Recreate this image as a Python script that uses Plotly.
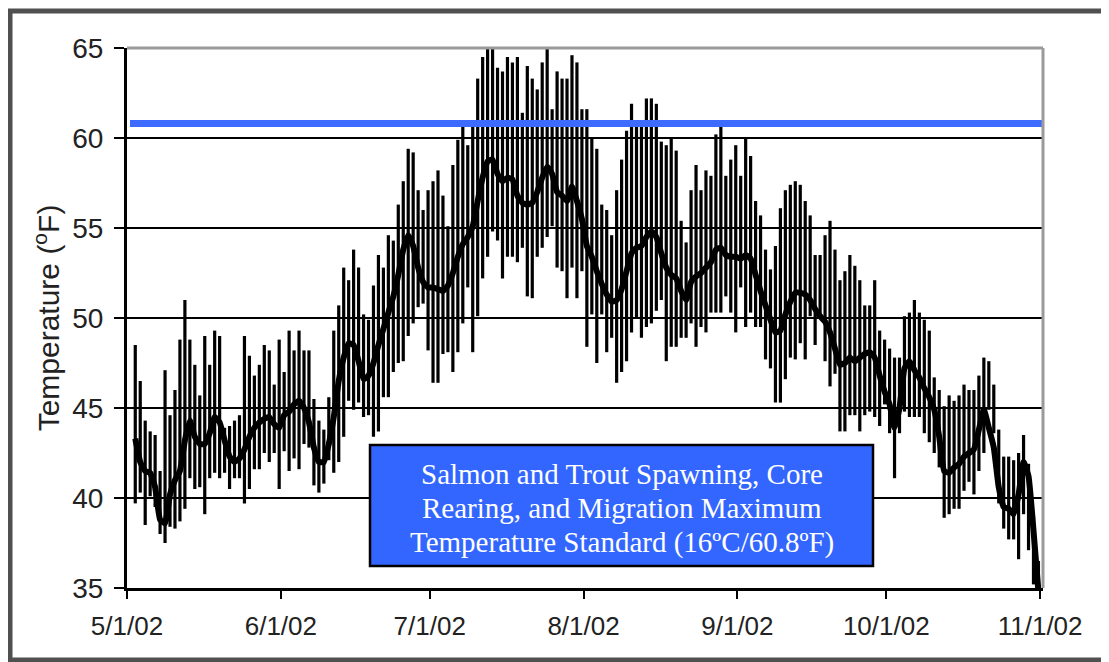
import pandas as pd
import plotly.graph_objects as go

# ---------------- data (daily values, 5/2/02 .. 10/31/02) ----------------
start_date = "2002-05-02"
end_date = "2002-10-31"

may_max = [48.5, 46.5, 44.3, 43.7, 43.5, 41.5, 47.1, 44.6, 46.0, 48.8, 51.0, 48.8, 47.4, 45.7, 49.0,
           47.4, 49.3, 49.0, 43.9, 44.0, 44.3, 44.6, 49.0, 47.9, 46.8, 47.4, 48.5, 48.2, 46.3, 48.8]
may_min = [39.7, 40.3, 38.5, 40.1, 39.5, 38.0, 37.5, 38.4, 38.3, 38.7, 39.4, 41.1, 40.5, 40.6, 39.1,
           41.1, 41.4, 41.1, 41.4, 40.5, 41.1, 41.1, 39.7, 40.5, 41.6, 41.6, 42.5, 42.0, 42.5, 40.5]
may_mean = [43.3, 42.0, 41.5, 41.4, 40.6, 38.8, 38.6, 40.2, 41.0, 41.5, 43.2, 44.3, 43.4, 43.0, 43.0,
            43.6, 44.5, 44.2, 43.2, 42.3, 42.0, 42.2, 42.7, 43.4, 43.9, 44.2, 44.4, 44.5, 44.1, 43.9]

jun_max = [47.0, 49.3, 48.2, 49.3, 48.2, 48.2, 45.5, 44.3, 43.8, 45.6, 49.3, 50.7, 52.8, 52.1, 53.8,
           52.8, 50.2, 49.9, 51.8, 53.5, 52.8, 54.6, 54.3, 56.3, 57.6, 59.4, 59.2, 57.1, 56.0, 57.1]
jun_min = [42.6, 41.5, 42.2, 41.6, 43.0, 42.8, 40.7, 40.3, 40.8, 42.1, 41.4, 42.0, 43.4, 45.4, 44.9,
           45.3, 44.5, 44.6, 43.4, 43.7, 45.6, 45.6, 47.0, 47.5, 47.6, 49.0, 49.7, 50.6, 50.8, 48.2]
jun_mean = [44.6, 44.8, 45.2, 45.4, 45.0, 44.2, 42.8, 42.0, 42.0, 43.0, 44.5, 46.5, 47.8, 48.6, 48.5,
            47.6, 46.6, 46.8, 47.5, 48.5, 49.4, 50.3, 51.2, 52.4, 53.8, 54.6, 54.0, 52.8, 52.0, 51.7]

jul_max = [57.6, 58.2, 56.8, 55.1, 58.5, 59.9, 60.7, 59.6, 60.7, 63.3, 64.5, 65.0, 65.0, 63.9, 63.7,
           64.5, 64.2, 64.5, 61.4, 64.0, 63.3, 62.7, 64.2, 65.0, 61.6, 63.7, 63.3, 63.3, 64.6, 64.2, 61.6]
jul_min = [46.4, 46.4, 48.0, 48.1, 47.0, 48.1, 49.7, 51.7, 48.1, 50.1, 52.2, 53.4, 54.8, 54.3, 52.2,
           53.4, 53.4, 53.1, 53.9, 51.2, 51.1, 53.4, 53.9, 54.5, 55.1, 52.8, 52.6, 51.1, 52.8, 51.1, 52.6]
jul_mean = [51.7, 51.6, 51.5, 51.8, 52.5, 53.4, 54.1, 54.5, 55.1, 56.5, 57.8, 58.7, 58.8, 58.0, 57.6,
            57.8, 57.7, 56.8, 56.4, 56.3, 56.4, 57.0, 57.8, 58.4, 58.0, 57.0, 56.8, 56.5, 57.3, 56.5, 55.5]

aug_max = [61.6, 60.0, 59.4, 56.3, 56.0, 54.6, 57.1, 58.8, 60.4, 61.9, 60.7, 60.7, 62.2, 62.2, 61.9,
           59.8, 59.6, 60.0, 59.3, 55.4, 54.2, 57.1, 58.5, 57.1, 58.2, 57.9, 60.2, 60.7, 57.9, 58.8, 59.6]
aug_min = [48.4, 50.2, 47.5, 50.2, 48.1, 48.9, 46.4, 47.0, 47.6, 49.2, 50.0, 48.9, 49.5, 49.7, 50.4,
           51.0, 47.6, 48.4, 48.4, 48.9, 48.9, 49.7, 48.4, 49.5, 49.2, 50.3, 50.3, 50.3, 51.2, 50.3, 49.2]
aug_mean = [54.0, 53.4, 52.6, 51.9, 51.3, 50.9, 51.0, 51.6, 52.6, 53.6, 53.9, 54.0, 54.5, 54.8, 54.5,
            53.6, 52.8, 52.4, 52.2, 51.5, 51.0, 52.0, 52.3, 52.5, 52.8, 53.1, 53.8, 53.9, 53.5, 53.4, 53.4]

sep_max = [57.9, 60.0, 59.0, 56.5, 55.7, 53.8, 52.7, 54.0, 56.1, 57.1, 57.4, 57.6, 57.4, 56.5, 55.7,
           53.5, 53.5, 54.6, 55.4, 53.8, 52.1, 52.6, 53.5, 52.9, 52.1, 50.7, 50.7, 52.1, 49.3, 48.8]
sep_min = [51.7, 49.5, 50.3, 49.5, 49.5, 47.7, 47.2, 45.3, 45.3, 46.6, 47.8, 47.7, 48.6, 47.7, 50.1,
           48.5, 50.1, 47.6, 46.2, 46.9, 43.7, 43.7, 44.6, 44.6, 43.7, 44.6, 44.8, 44.5, 44.0, 45.2]
sep_mean = [53.3, 53.5, 53.3, 52.4, 51.5, 50.7, 49.9, 49.2, 49.3, 50.2, 50.9, 51.4, 51.4, 51.3, 51.0,
            50.5, 50.1, 49.8, 49.2, 48.3, 47.4, 47.5, 47.8, 47.6, 47.8, 48.0, 48.1, 47.8, 46.8, 45.9]

oct_max = [48.3, 47.8, 47.8, 50.1, 50.3, 51.0, 50.3, 49.9, 49.3, 46.7, 46.0, 45.1, 45.7, 45.4, 45.7,
           46.3, 46.0, 46.0, 46.8, 47.8, 47.6, 46.3, 43.8, 42.3, 42.3, 42.1, 42.5, 43.5, 41.9, 39.0, 36.5]
oct_min = [43.6, 41.1, 43.6, 44.8, 44.5, 44.5, 44.5, 43.6, 43.1, 42.5, 41.7, 38.9, 39.1, 39.4, 39.4,
           40.4, 40.9, 40.2, 41.5, 42.5, 44.9, 43.6, 39.7, 38.3, 37.7, 37.7, 36.6, 39.1, 37.1, 35.2, 35.0]
oct_mean = [45.2, 43.9, 45.0, 47.2, 47.6, 47.1, 46.7, 46.1, 45.6, 44.9, 43.4, 41.5, 41.4, 41.7, 41.9,
            42.3, 42.5, 42.7, 43.8, 44.9, 43.9, 42.8, 40.6, 39.5, 39.4, 39.1, 40.2, 42.0, 41.2, 38.2, 34.8]

daily_max = may_max + jun_max + jul_max + aug_max + sep_max + oct_max
daily_min = may_min + jun_min + jul_min + aug_min + sep_min + oct_min
daily_mean = may_mean + jun_mean + jul_mean + aug_mean + sep_mean + oct_mean

standard_f = 60.8
standard_lines = ["Salmon and Trout Spawning, Core",
                  "Rearing, and Migration Maximum",
                  "Temperature Standard (16ºC/60.8ºF)"]

y_ticks = [35, 40, 45, 50, 55, 60, 65]
x_tick_dates = ["2002-05-01", "2002-06-01", "2002-07-01", "2002-08-01",
                "2002-09-01", "2002-10-01", "2002-11-01"]
x_tick_labels = ["5/1/02", "6/1/02", "7/1/02", "8/1/02", "9/1/02", "10/1/02", "11/1/02"]
y_title = "Temperature (<sup>o</sup>F)"

# ---------------- figure ----------------
dates = pd.date_range(start_date, end_date, freq="D") + pd.Timedelta(hours=16)

bx, by = [], []
for d, lo, hi in zip(dates, daily_min, daily_max):
    bx += [d, d, None]
    by += [lo, hi, None]

# page body adds an 8px offset; plot area on screen: x 127..1043, y 48..588
OFF = 8
W, H = 1109 - OFF, 662 - OFF
ML, MT = 127 - OFF, 48 - OFF
MR, MB = 66, 74
PL, PR, PT, PB = 127, 1043, 48, 588
PW, PH = PR - PL, PB - PT


def px_x(p):
    return (p - PL) / PW


def px_y(p):
    return (PB - p) / PH


fig = go.Figure()
fig.add_trace(go.Scatter(x=bx, y=by, mode="lines", line=dict(color="black", width=3.2),
                         hoverinfo="skip", showlegend=False))
fig.add_trace(go.Scatter(x=dates, y=daily_mean, mode="lines",
                         line=dict(color="black", width=6, shape="spline", smoothing=0.4),
                         showlegend=False))

shapes = [
    # standard line
    dict(type="line", xref="paper", yref="y", x0=px_x(130), x1=px_x(1042), y0=standard_f, y1=standard_f,
         line=dict(color="#3D6AFF", width=7), layer="above"),
    # gray plot border top / right
    dict(type="line", xref="paper", yref="paper", x0=0, x1=1, y0=1, y1=1,
         line=dict(color="#9a9a9a", width=3), layer="above"),
    dict(type="line", xref="paper", yref="paper", x0=1, x1=1, y0=0, y1=1,
         line=dict(color="#9a9a9a", width=3), layer="above"),
    # text box
    dict(type="rect", xref="paper", yref="paper", x0=px_x(370), x1=px_x(873), y0=px_y(566), y1=px_y(445),
         line=dict(color="black", width=2.5), fillcolor="#3366FF", layer="above"),
    # outer frame
    dict(type="rect", xref="paper", yref="paper", x0=px_x(10), x1=px_x(1116), y0=px_y(660), y1=px_y(11),
         line=dict(color="#505050", width=5), fillcolor="rgba(0,0,0,0)", layer="above"),
]

annotations = []
for i, line_text in enumerate(standard_lines):
    annotations.append(dict(
        text=line_text, xref="paper", yref="paper",
        x=px_x(621.5), y=px_y(474 + 34 * i), xanchor="center", yanchor="middle",
        showarrow=False,
        font=dict(family="Liberation Serif, Times New Roman, serif", size=29, color="white"),
    ))

fig.update_layout(
    width=W, height=H,
    margin=dict(l=ML, r=MR, t=MT, b=MB, autoexpand=False),
    paper_bgcolor="white", plot_bgcolor="white",
    font=dict(family="Liberation Sans, Arial, sans-serif", size=26, color="#222222"),
    shapes=shapes,
    annotations=annotations,
    showlegend=False,
)

fig.update_xaxes(
    type="date",
    range=["2002-05-01", "2002-11-01 14:00"],
    tickvals=x_tick_dates, ticktext=x_tick_labels,
    ticks="outside", ticklen=8, tickwidth=2, tickcolor="black",
    ticklabelstandoff=5,
    showline=True, linecolor="black", linewidth=3,
    showgrid=False, zeroline=False,
    tickfont=dict(size=26, color="#222222"),
    automargin=False,
)
fig.update_yaxes(
    range=[35, 65], tickvals=y_ticks,
    ticks="outside", ticklen=10, tickwidth=2, tickcolor="black",
    ticklabelstandoff=5,
    showline=True, linecolor="black", linewidth=3,
    showgrid=True, gridcolor="black", gridwidth=2, zeroline=False,
    tickfont=dict(size=28, color="#222222"),
    title=dict(text=y_title, font=dict(size=30, color="#222222"), standoff=4),
    automargin=False,
)

fig.write_html("out.html")
